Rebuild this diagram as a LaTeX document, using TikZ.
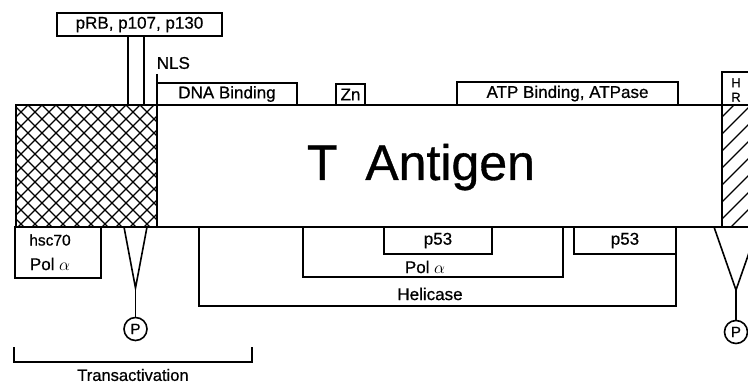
\documentclass[tikz,border=0pt]{standalone}
\usepackage{fontspec}
\setmainfont{Liberation Sans}
\newfontfamily\lblfont{Liberation Sans}[FakeBold=0.7]
\begin{document}
\begin{tikzpicture}[x=1pt,y=-1pt,line width=1.6pt,
  lab/.style={font=\lblfont\fontsize{17}{19}\selectfont,inner sep=0pt},
  boxnode/.style={draw,rectangle,inner sep=0pt,outer sep=0pt,anchor=north west,font=\lblfont\fontsize{17}{19}\selectfont},
  hatchline/.style={line width=1.3pt},
  pcircle/.style={draw,circle,minimum size=23pt,inner sep=0pt,font=\lblfont\fontsize{15}{16}\selectfont}]
\useasboundingbox (0,0) rectangle (748,385);
% hatching of the left region
\begin{scope}
\clip (16,105) rectangle (157,227);
\foreach \c in {0,14,...,420} {
  \draw[hatchline] (\c,105) -- ++(-140,140);
  \draw[hatchline] (\c-280,105) -- ++(140,140);
}
\end{scope}
% hatching of the right region
\begin{scope}
\clip (722,105) rectangle (760,227);
\foreach \c in {700,717,...,1000} {
  \draw[hatchline] (\c,105) -- ++(-140,140);
}
\end{scope}
% main bar
\node[boxnode,minimum width=780pt,minimum height=122pt] (bar) at (16,105) {};
\draw (157,105) -- (157,227);
\draw (722,105) -- (722,227);
\node[font=\lblfont\fontsize{50}{52}\selectfont,inner sep=0pt,anchor=base] (tag) at (421,180) {T\ \ Antigen};
% top boxes
\node[boxnode,minimum width=165pt,minimum height=23pt] (prb) at (57,13) {pRB, p107, p130};
\coordinate (s1) at (128,105);
\coordinate (s2) at (144,105);
\draw (prb.south -| s1) -- (s1);
\draw (prb.south -| s2) -- (s2);
\node[lab,anchor=west] (nls) at (156,63) {NLS};
\node[boxnode,minimum width=140pt,minimum height=22pt] (dna) at (157,83) {DNA Binding};
\draw (157,74) -- (dna.north west);
\node[boxnode,minimum width=29pt,minimum height=21pt] (zn) at (336,84) {Zn};
\node[boxnode,minimum width=221pt,minimum height=23pt] (atp) at (457,82) {ATP Binding, ATPase};
\node[boxnode,minimum width=40pt,minimum height=33pt] (hr) at (722,72) {};
\node[lab,align=center,font=\lblfont\fontsize{13}{14.5}\selectfont] (hrt) at (736,90) {H\\R};
% bottom boxes
\node[boxnode,minimum width=86pt,minimum height=51pt] (hsc) at (15,227) {};
\node[lab,font=\lblfont\fontsize{15.5}{17}\selectfont] (hsct) at (50,240) {hsc70};
\node[lab] (polt1) at (50,264) {Pol $\alpha$};
\node[boxnode,minimum width=108pt,minimum height=27pt] (p53a) at (384,227) {p53};
\node[boxnode,minimum width=102pt,minimum height=27pt] (p53b) at (574,227) {p53};
% Pol alpha bracket
\coordinate (pa1) at (303,227);
\coordinate (pa2) at (563,227);
\draw (pa1) -- (303,277) -- (563,277) -- (pa2);
\node[lab] (polt2) at (425,267) {Pol $\alpha$};
% Helicase bracket
\coordinate (he1) at (199,227);
\draw (he1) -- (199,306) -- (676,306) -- (p53b.south east);
\node[lab] (helt) at (430,294) {Helicase};
% phosphorylation sites
\coordinate (ta1) at (124,227);
\coordinate (ta2) at (147,227);
\coordinate (tap) at (135.5,288);
\node[pcircle] (p1) at (135.5,329) {P};
\draw (ta1) -- (tap) -- (ta2);
\draw (tap) -- (p1.north);
\coordinate (tb1) at (714,227);
\coordinate (tb2) at (758,227);
\coordinate (tbp) at (736,290);
\node[pcircle] (p2) at (736,332) {P};
\draw (tb1) -- (tbp) -- (tb2);
\draw (tbp) -- (p2.north);
% transactivation bracket
\coordinate (tr1) at (14,347);
\coordinate (tr2) at (252,347);
\draw (tr1) -- (14,362) -- (252,362) -- (tr2);
\node[lab,font=\lblfont\fontsize{16.5}{18}\selectfont] (trt) at (133,375) {Transactivation};
\end{tikzpicture}
\end{document}
